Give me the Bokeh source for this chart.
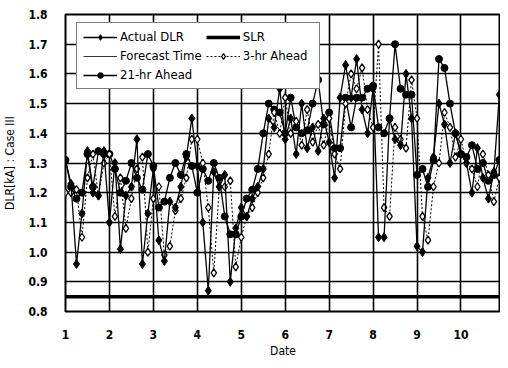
import numpy as np
from bokeh.plotting import figure
from bokeh.models import FixedTicker, Legend, LegendItem, Range1d, ColumnDataSource
from bokeh.embed import file_html
from bokeh.resources import INLINE

# ---- data ----
hours = np.arange(80) * 3  # 3-hourly samples starting at day 1

actual_dlr = [
    1.31, 1.23, 0.96, 1.13, 1.34, 1.20, 1.19, 1.34,
    1.10, 1.30, 1.01, 1.19, 1.22, 1.38, 0.96, 1.13,
    1.28, 1.04, 0.97, 1.17, 1.15, 1.22, 1.32, 1.45,
    1.29, 1.10, 0.87, 1.27, 1.22, 1.26, 0.90, 1.08,
    1.15, 1.12, 1.18, 1.22, 1.28, 1.45, 1.42, 1.55,
    1.38, 1.45, 1.33, 1.50, 1.35, 1.42, 1.34, 1.45,
    1.37, 1.25, 1.52, 1.63, 1.52, 1.65, 1.48, 1.40,
    1.55, 1.05, 1.05, 1.45, 1.38, 1.36, 1.60, 1.45,
    1.02, 1.00, 1.25, 1.32, 1.50, 1.43, 1.30, 1.40,
    1.33, 1.30, 1.20, 1.35, 1.25, 1.18, 1.27, 1.53,
]
ahead_3hr = [
    1.20, 1.20, 1.21, 1.05, 1.25, 1.33, 1.19, 1.30,
    1.33, 1.12, 1.25, 1.08, 1.18, 1.28, 1.32, 1.00,
    1.18, 1.22, 0.99, 1.02, 1.14, 1.18, 1.25, 1.38,
    1.38, 1.30, 1.15, 0.93, 1.22, 1.22, 1.24, 0.95,
    1.05, 1.12, 1.15, 1.20, 1.25, 1.33, 1.47, 1.40,
    1.52, 1.40, 1.44, 1.36, 1.48, 1.37, 1.43, 1.36,
    1.45, 1.33, 1.28, 1.50, 1.60, 1.55, 1.62, 1.48,
    1.42, 1.70, 1.15, 1.12, 1.42, 1.38, 1.35, 1.58,
    1.45, 1.12, 1.04, 1.22, 1.30, 1.47, 1.42, 1.32,
    1.38, 1.30, 1.28, 1.22, 1.33, 1.26, 1.17, 1.25,
]
ahead_21hr = [
    1.31, 1.22, 1.18, 1.20, 1.33, 1.22, 1.34, 1.33,
    1.33, 1.28, 1.20, 1.24, 1.30, 1.25, 1.21, 1.33,
    1.29, 1.15, 1.17, 1.25, 1.30, 1.26, 1.33, 1.29,
    1.20, 1.28, 1.24, 1.30, 1.25, 1.12, 1.06, 1.06,
    1.12, 1.18, 1.21, 1.28, 1.40, 1.50, 1.48, 1.47,
    1.40, 1.52, 1.42, 1.40, 1.41, 1.50, 1.58, 1.43,
    1.47, 1.35, 1.35, 1.52, 1.42, 1.52, 1.52, 1.55,
    1.56, 1.42, 1.40, 1.45, 1.70, 1.55, 1.53, 1.53,
    1.26, 1.28, 1.22, 1.31, 1.65, 1.62, 1.50, 1.40,
    1.33, 1.32, 1.36, 1.28, 1.30, 1.24, 1.26, 1.31,
]
slr_value = 0.85
x_ticks = [1, 2, 3, 4, 5, 6, 7, 8, 9, 10]
y_ticks = [0.8, 0.9, 1.0, 1.1, 1.2, 1.3, 1.4, 1.5, 1.6, 1.7, 1.8]
y_tick_labels = {0.8: "0.8", 0.9: "0.9", 1.0: "1.0", 1.1: "1.1", 1.2: "1.2", 1.3: "1.3",
                 1.4: "1.4", 1.5: "1.5", 1.6: "1.6", 1.7: "1.7", 1.8: "1.8"}

date = 1 + hours / 24.0

FONT = "DejaVu Sans Condensed, Liberation Sans, sans-serif"

p = figure(width=500, height=360, output_backend="svg", toolbar_location=None,
           x_range=Range1d(1, 10.9), y_range=Range1d(0.8, 1.8),
           min_border_left=58, min_border_right=0, min_border_top=14, min_border_bottom=38)
p.outline_line_color = "black"
p.outline_line_width = 2

src = ColumnDataSource(dict(x=date, a=actual_dlr, h3=ahead_3hr, h21=ahead_21hr))

slr = p.line([0, 12], [slr_value, slr_value], line_color="black", line_width=3.5)
# forecast-time marker line kept off-screen; shown in the legend only
fc = p.line([0, 12], [-5, -5], line_color="black", line_width=0.8)

l21 = p.line("x", "h21", source=src, line_color="black", line_width=1.3)
m21 = p.scatter("x", "h21", source=src, marker="circle", size=7, fill_color="black", line_color="black")
l3 = p.line("x", "h3", source=src, line_color="black", line_width=1, line_dash="2 2")
m3 = p.scatter("x", "h3", source=src, marker="diamond", size=8, fill_color="white", line_color="black", line_width=1.3)
la = p.line("x", "a", source=src, line_color="black", line_width=1.3)
ma = p.scatter("x", "a", source=src, marker="diamond", size=9, fill_color="black", line_color="black")

for ax in (p.xaxis[0], p.yaxis[0]):
    ax.axis_line_color = None
    ax.major_tick_line_color = None
    ax.minor_tick_line_color = None
    ax.major_label_text_font = FONT
    ax.major_label_text_font_style = "bold"
    ax.major_label_text_font_size = "12px"
    ax.major_label_text_color = "black"
    ax.axis_label_text_font = FONT
    ax.axis_label_text_font_style = "normal"
    ax.axis_label_text_font_size = "12px"
    ax.axis_label_text_color = "black"

p.xaxis.ticker = FixedTicker(ticks=x_ticks)
p.yaxis.ticker = FixedTicker(ticks=y_ticks)
p.yaxis.major_label_overrides = y_tick_labels
p.xaxis.major_label_standoff = 12
p.yaxis.major_label_standoff = 12
p.xaxis.axis_label = "Date"
p.yaxis.axis_label = "DLR[kA] : Case III"
p.xaxis.axis_label_standoff = 2
p.yaxis.axis_label_standoff = 8

p.xgrid.ticker = FixedTicker(ticks=x_ticks)
p.ygrid.ticker = FixedTicker(ticks=y_ticks)
for g in (p.xgrid[0], p.ygrid[0]):
    g.grid_line_color = "black"
    g.grid_line_width = 1.6
    g.grid_line_alpha = 1.0

legend = Legend(items=[
    LegendItem(label="Actual DLR", renderers=[la, ma]),
    LegendItem(label="Forecast Time", renderers=[fc]),
    LegendItem(label="21-hr Ahead", renderers=[l21, m21]),
    LegendItem(label="SLR", renderers=[slr]),
    LegendItem(label="3-hr Ahead", renderers=[l3, m3]),
], ncols=2, location=(11, 222))
legend.label_text_font = FONT
legend.label_text_font_size = "13px"
legend.label_text_color = "black"
legend.border_line_color = "black"
legend.border_line_width = 1.5
legend.background_fill_alpha = 1
legend.glyph_width = 34
legend.glyph_height = 14
legend.label_height = 14
legend.label_width = 70
legend.spacing = 4
legend.padding = 6
legend.margin = 0
legend.label_standoff = 3
p.add_layout(legend, "center")

open("out.html", "w").write(file_html(p, INLINE))
